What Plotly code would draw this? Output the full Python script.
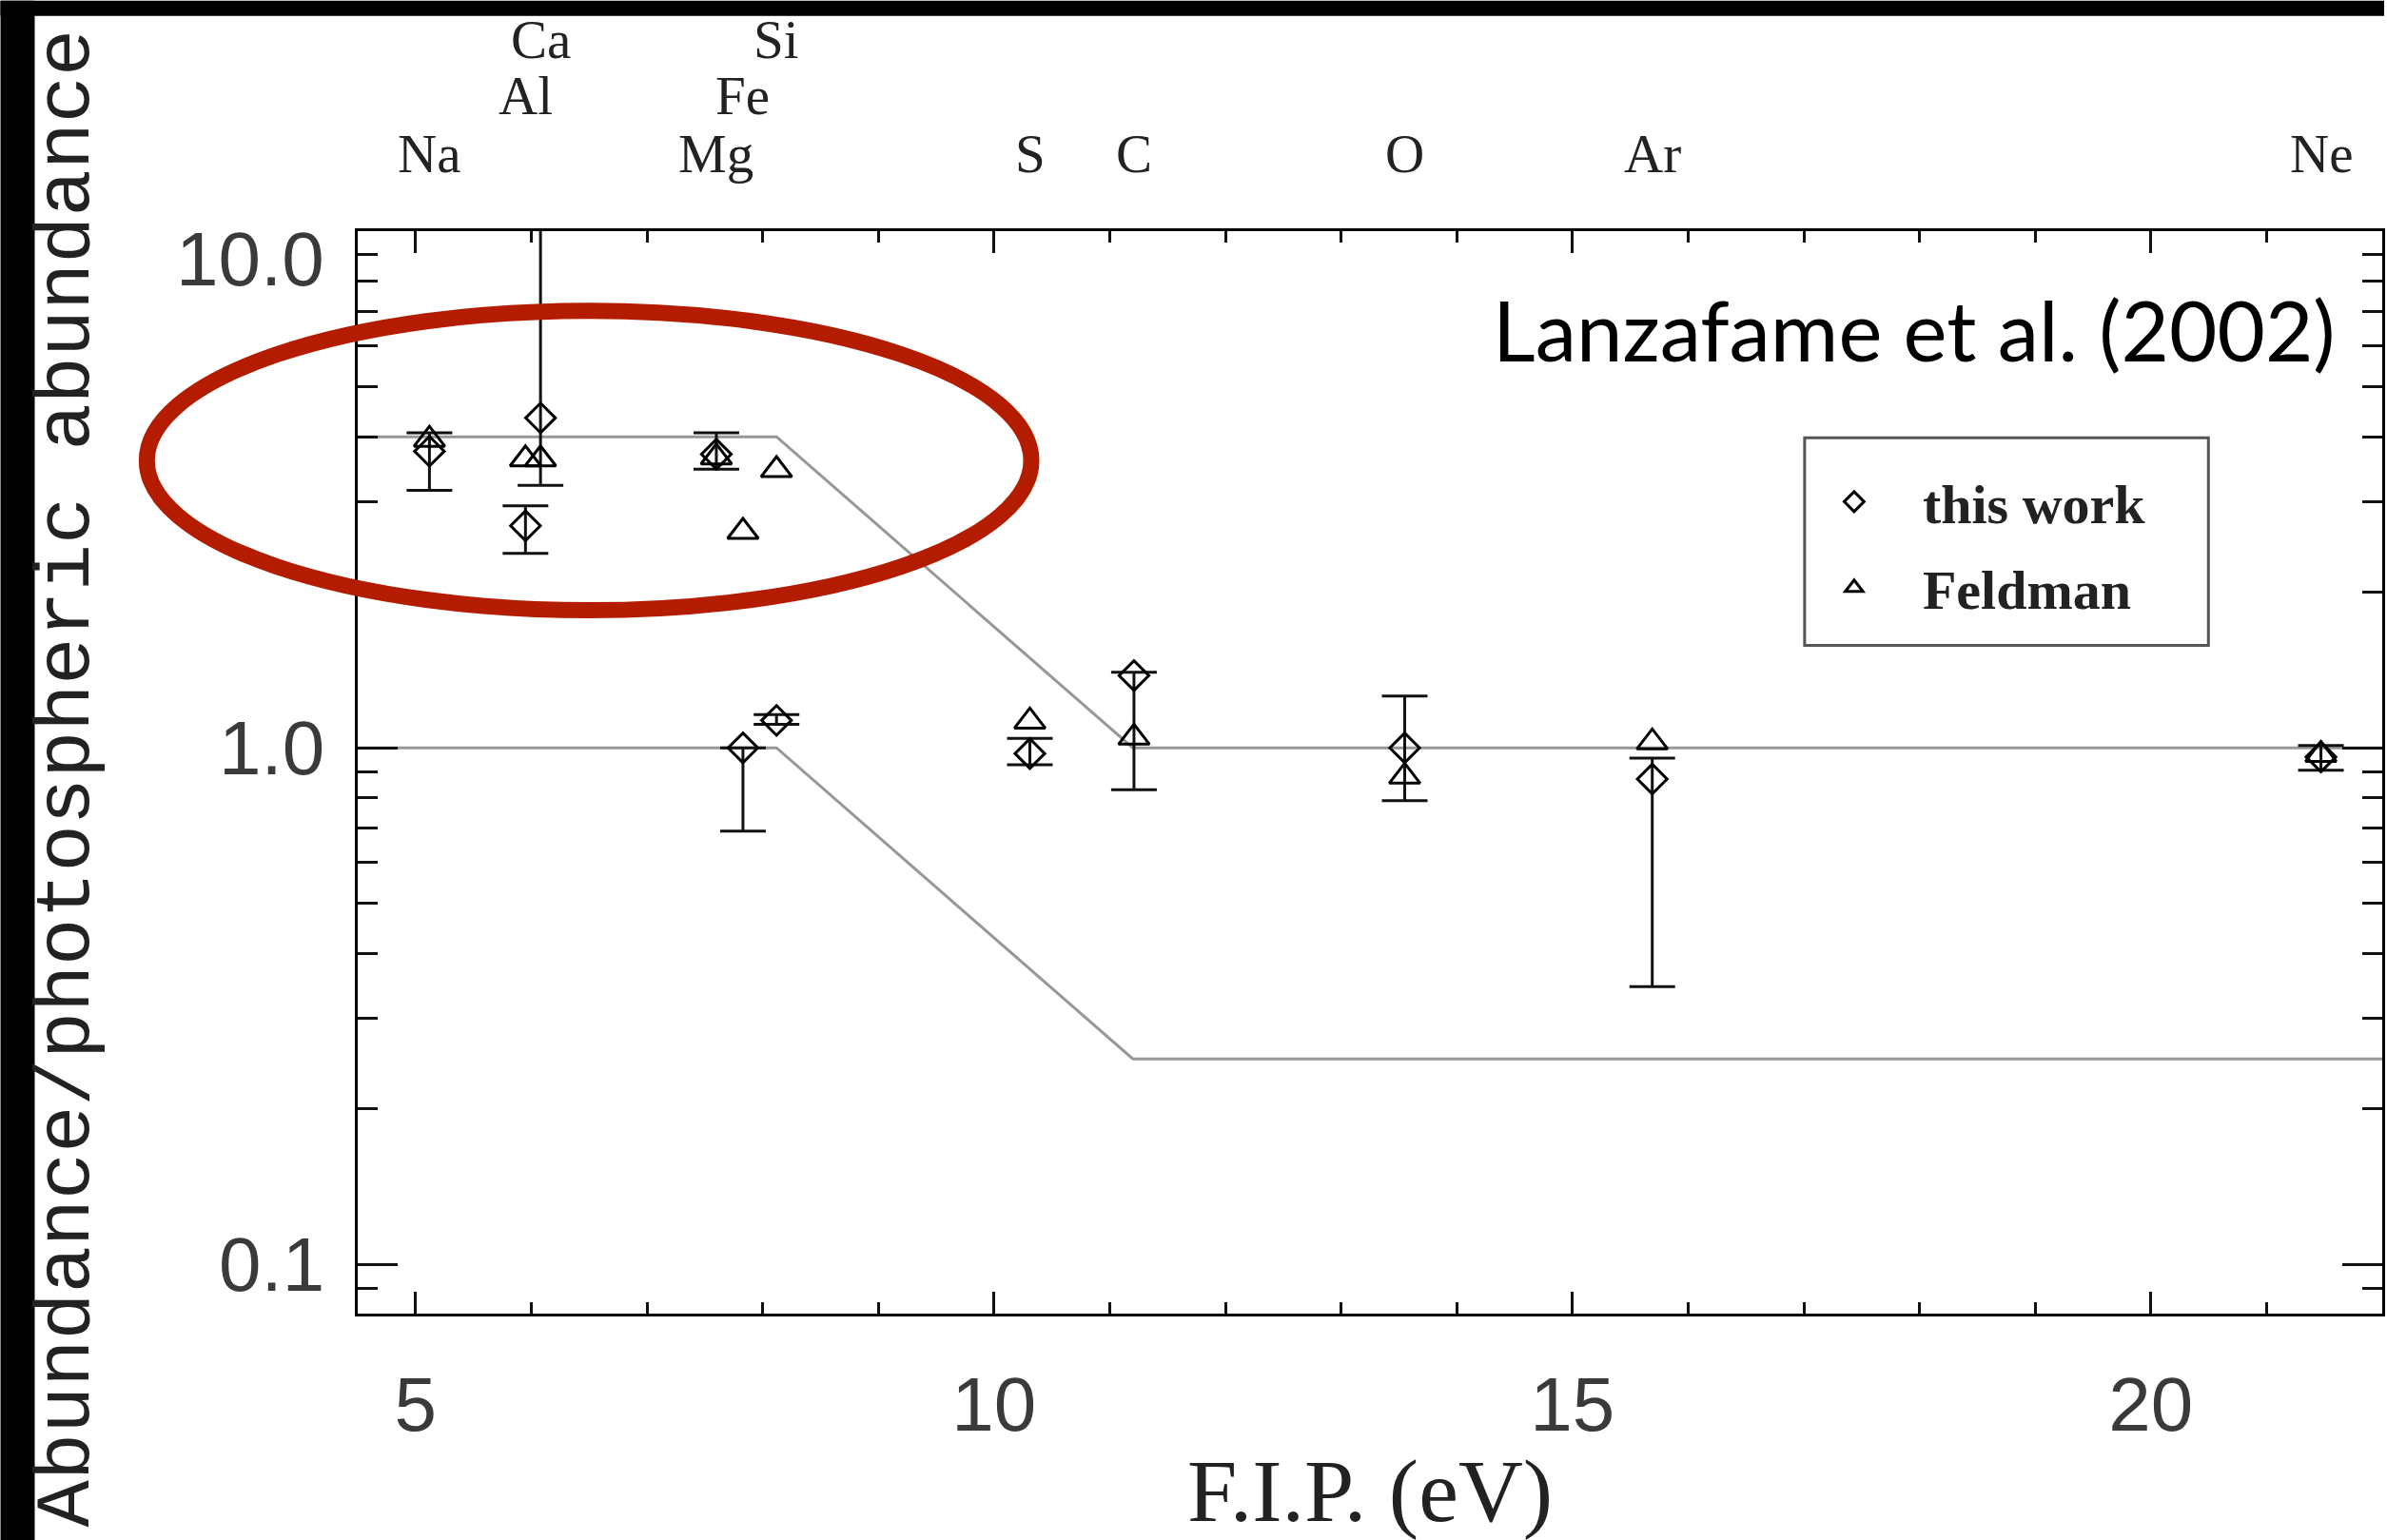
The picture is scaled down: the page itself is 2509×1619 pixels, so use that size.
import math
import plotly.graph_objects as go

# ---------------- data ----------------
# element and first ionisation potential (eV) used as x position
elements = ["Na", "Al", "Ca", "Mg", "Fe", "Si", "S", "C", "O", "Ar", "Ne"]
fip_ev = [5.12, 5.95, 6.08, 7.60, 7.83, 8.12, 10.31, 11.21, 13.55, 15.69, 21.47]

# this work: abundance / photospheric abundance, with error limits
this_work = [3.75, 2.69, 4.35, 3.70, 1.00, 1.13, 0.975, 1.38, 1.00, 0.87, 0.96]
this_work_low = [3.15, 2.38, 3.22, 3.46, 0.69, 1.11, 0.927, 0.83, 0.79, 0.345, 0.905]
this_work_high = [4.07, 2.94, 30.0, 4.07, 1.00, 1.16, 1.043, 1.40, 1.26, 0.955, 1.01]

# Feldman values
feldman = [3.95, 3.62, 3.62, 3.65, 2.62, 3.45, 1.125, 1.047, 0.88, 1.025, 0.97]

# FIP-bias model curves
model_fip = [4.5, 8.12, 11.2, 22.0]
model_high = [4.0, 4.0, 1.0, 1.0]
model_low = [1.0, 1.0, 0.25, 0.25]

x_ticks = [5, 10, 15, 20]
y_ticks = [0.1, 1.0, 10.0]
y_tick_text = ["0.1", "1.0", "10.0"]

# ---------------- layout geometry ----------------
W, H = 2509, 1619
PL, PR, PT, PB = 376, 2507, 243, 1385


def px(xp):
    return (xp - PL) / (PR - PL)


def py(yp):
    return (PB - yp) / (PB - PT)


SERIF = "Liberation Serif"
SANS = "Liberation Sans"
MONO = "Liberation Mono"

fig = go.Figure()

for model in (model_high, model_low):
    fig.add_trace(go.Scatter(
        x=model_fip, y=model, mode="lines",
        line=dict(color="#979797", width=3),
        showlegend=False, hoverinfo="skip"))

fig.add_trace(go.Scatter(
    x=fip_ev, y=this_work, mode="markers", name="this work",
    legendgroup="a",
    marker=dict(symbol="diamond-open", size=24, color="black",
                line=dict(width=3, color="black")),
    error_y=dict(type="data", symmetric=False,
                 array=[h - v for h, v in zip(this_work_high, this_work)],
                 arrayminus=[v - lo for v, lo in zip(this_work, this_work_low)],
                 color="#111111", thickness=3, width=24)))

fig.add_trace(go.Scatter(
    x=fip_ev, y=feldman, mode="markers", name="Feldman",
    legendgroup="b",
    marker=dict(symbol="triangle-up-open", size=28, color="black",
                line=dict(width=3, color="black"))))

# ---------------- axes ----------------
fig.update_xaxes(
    range=[4.5, 22.0], tickmode="array", tickvals=x_ticks,
    ticks="inside", ticklen=23, tickwidth=3, tickcolor="#111111",
    showline=True, linewidth=3, linecolor="black", mirror="ticks",
    showgrid=False, zeroline=False,
    tickfont=dict(family=SANS, size=80, color="#3a3a3a"),
    ticklabelstandoff=24,
    minor=dict(ticks="inside", ticklen=12, tickwidth=3, tickcolor="#111111",
               dtick=1, tick0=0, showgrid=False),
    title=dict(text="F.I.P. (eV)", font=dict(family=SERIF, size=94, color="#222222"),
               standoff=30),
)

y_minor = [0.09] + [k / 10 for k in range(2, 10)] + [float(k) for k in range(2, 10)]
fig.update_yaxes(
    type="log", range=[-1.095, 1.0], tickmode="array", tickvals=y_ticks,
    showticklabels=False,
    ticks="inside", ticklen=42, tickwidth=3, tickcolor="#111111",
    showline=True, linewidth=3, linecolor="black", mirror="ticks",
    showgrid=False, zeroline=False,
    minor=dict(ticks="inside", ticklen=21, tickwidth=3, tickcolor="#111111",
               tickmode="array", tickvals=y_minor, showgrid=False),
)

annotations = []

# y tick labels
for v, t in zip(y_ticks, y_tick_text):
    annotations.append(dict(
        x=px(343), xref="paper", y=math.log10(v), yref="y",
        text=t, showarrow=False, xanchor="right", yanchor="middle",
        yshift=-29 if v == 10.0 else 0,
        font=dict(family=SANS, size=80, color="#3a3a3a")))

# element names stacked above the top axis
row_y = [py(161), py(100), py(41)]
row = 0
prev = None
for name, x in zip(elements, fip_ev):
    if prev is not None and x - prev < 0.88:
        row += 1
    else:
        row = 0
    prev = x
    annotations.append(dict(
        x=x, xref="x", y=row_y[row], yref="paper", text=name,
        showarrow=False, xanchor="center", yanchor="middle",
        font=dict(family=SERIF, size=57, color="#222222")))

# y axis title
annotations.append(dict(
    x=px(72), xref="paper", y=py(820), yref="paper",
    text="Abundance/photospheric abundance", textangle=-90,
    showarrow=False, xanchor="center", yanchor="middle",
    font=dict(family=MONO, size=82, color="#222222")))

# reference tag
annotations.append(dict(
    x=px(2460), xref="paper", y=py(347), yref="paper",
    text="Lanzafame et al. (2002)", showarrow=False,
    xanchor="right", yanchor="middle",
    font=dict(family="Lato", size=87, color="black")))

shapes = [
    # legend frame
    dict(type="rect", xref="paper", yref="paper",
         x0=px(1899), x1=px(2324), y0=py(680), y1=py(461),
         line=dict(color="#555555", width=3), fillcolor="rgba(0,0,0,0)"),
    # highlight ellipse
    dict(type="circle", xref="paper", yref="paper",
         x0=px(154), x1=px(1085), y0=py(643), y1=py(327),
         line=dict(color="#B41C00", width=17), layer="above"),
    # dark frame strips
    dict(type="rect", xref="paper", yref="paper",
         x0=px(0), x1=px(36), y0=py(W), y1=py(0),
         fillcolor="black", line=dict(width=0), layer="above"),
    dict(type="rect", xref="paper", yref="paper",
         x0=px(0), x1=px(W), y0=py(16), y1=py(0),
         fillcolor="black", line=dict(width=0), layer="above"),
]

fig.update_layout(
    width=W, height=H,
    margin=dict(l=PL, r=W - PR, t=PT, b=H - PB),
    paper_bgcolor="white", plot_bgcolor="white",
    showlegend=True,
    legend=dict(x=px(1879), y=py(484), xanchor="left", yanchor="top",
                bgcolor="rgba(0,0,0,0)", borderwidth=0,
                font=dict(family=SERIF, size=58, color="#222222", weight="bold"),
                itemwidth=134, tracegroupgap=12),
    annotations=annotations,
    shapes=shapes,
    hovermode=False,
)

fig.write_html("out.html")
